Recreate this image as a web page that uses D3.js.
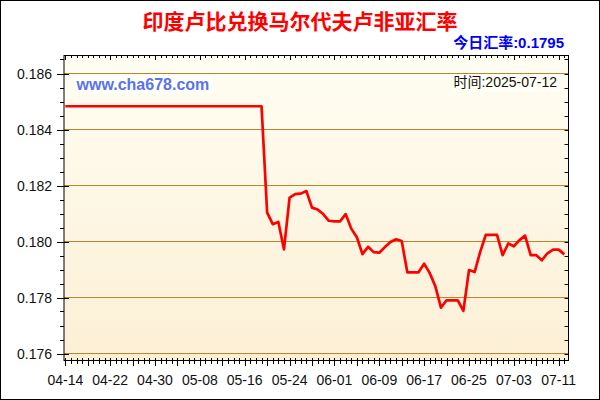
<!DOCTYPE html>
<html><head><meta charset="utf-8">
<script src="https://cdn.jsdelivr.net/npm/d3@7"></script>
<style>body{margin:0;background:#fff}svg{display:block}</style>
</head><body>
<svg id="c" width="600" height="400"></svg>
<script>
const chartTitle = "印度卢比兑换马尔代夫卢非亚汇率";
const todayLabel = "今日汇率:0.1795";
const timeLabel = "时间:2025-07-12";
const siteLabel = "www.cha678.com";
const startDate = "2025-04-14";
const xTickLabels = ["04-14","04-22","04-30","05-08","05-16","05-24","06-01","06-09","06-17","06-25","07-03","07-11"];
const yTickValues = [0.176,0.178,0.180,0.182,0.184,0.186];
const rates = [
  0.18483,0.18483,0.18483,0.18483,0.18483,0.18483,0.18483,0.18483,0.18483,0.18483,
  0.18483,0.18483,0.18483,0.18483,0.18483,0.18483,0.18483,0.18483,0.18483,0.18483,
  0.18483,0.18483,0.18483,0.18483,0.18483,0.18483,0.18483,0.18483,0.18483,0.18483,
  0.18483,0.18483,0.18483,0.18483,0.18483,0.18483,
  0.18103,0.18062,0.18070,0.17972,0.18157,0.18169,0.18171,0.18180,0.18121,0.18114,
  0.18098,0.18074,0.18072,0.18072,0.18098,0.18046,0.18015,0.17955,0.17981,0.17962,
  0.17960,0.17980,0.17998,0.18008,0.18002,0.17890,0.17890,0.17890,0.17921,0.17887,
  0.17840,0.17764,0.17790,0.17790,0.17790,0.17752,0.17898,0.17891,0.17963,0.18024,
  0.18024,0.18024,0.17951,0.17993,0.17983,0.18005,0.18021,0.17951,0.17951,0.17933,
  0.17958,0.17971,0.17971,0.17954
];

const parse = d3.utcParse("%Y-%m-%d");
const t0 = parse(startDate);
const data = rates.map((v, i) => ({ date: d3.utcDay.offset(t0, i), v }));
const lastDate = data[data.length - 1].date;

const L = 64, R = 568.5, T = 55.5, B = 360.5;
const x = d3.scaleUtc().domain([t0, parse("2025-07-11")]).range([65.3, 558.7]);
const y = d3.scaleLinear().domain([0.176, 0.186]).range([353.5, 73.5]);

const svg = d3.select("#c");
const defs = svg.append("defs");
const g = defs.append("linearGradient").attr("id","bg").attr("x1",0).attr("y1",0).attr("x2",0).attr("y2",1);
g.append("stop").attr("offset","0%").attr("stop-color","#FFFEF3");
g.append("stop").attr("offset","100%").attr("stop-color","#FCEFD5");

svg.append("rect").attr("x",0.5).attr("y",0.5).attr("width",599).attr("height",399)
  .attr("fill","#fff").attr("stroke","#000");

svg.append("rect").attr("x",L).attr("y",T).attr("width",R-L).attr("height",B-T).attr("fill","url(#bg)");

// grid lines
svg.append("g").selectAll("line").data(yTickValues).join("line")
  .attr("x1",L).attr("x2",R).attr("y1",d=>y(d)).attr("y2",d=>y(d))
  .attr("stroke","#B8862E").attr("stroke-width",1.2);

// label boxes
svg.append("rect").attr("x",74).attr("y",76).attr("width",140).attr("height",18).attr("fill","#FFFFF8");
svg.append("text").attr("x",76.5).attr("y",90).text(siteLabel)
  .attr("font-family","Liberation Sans, Arial, sans-serif").attr("font-weight","bold")
  .attr("font-size",16).attr("fill","#5873F0");

svg.append("rect").attr("x",452).attr("y",74).attr("width",108).attr("height",18).attr("fill","#FFFFF6");
svg.append("text").attr("x",557).attr("y",87).attr("text-anchor","end").text(timeLabel)
  .attr("font-family","Liberation Sans, Noto Sans CJK SC, sans-serif")
  .attr("font-size",14).attr("fill","#111");

// line
svg.append("path").datum(data)
  .attr("d", d3.line().x(d=>x(d.date)).y(d=>y(d.v)))
  .attr("fill","none").attr("stroke","#FF0000").attr("stroke-width",2.7).attr("stroke-linejoin","round");

// frame
svg.append("rect").attr("x",L).attr("y",T).attr("width",R-L).attr("height",B-T)
  .attr("fill","none").attr("stroke","#000").attr("stroke-width",1);

// y ticks
const minorY = d3.range(0.176, 0.18651, 0.0005);
const axY = svg.append("g").attr("stroke","#000").attr("stroke-width",1);
axY.selectAll("line.mn").data(minorY).join("line").attr("class","mn")
  .attr("x1",60).attr("x2",L).attr("y1",d=>Math.round(y(d))+0.5).attr("y2",d=>Math.round(y(d))+0.5);
axY.selectAll("line.mj").data(yTickValues).join("line").attr("class","mj")
  .attr("x1",57).attr("x2",69).attr("y1",d=>Math.round(y(d))+0.5).attr("y2",d=>Math.round(y(d))+0.5);
axY.selectAll("line.rt").data(minorY).join("line").attr("class","rt")
  .attr("x1",R-4).attr("x2",R).attr("y1",d=>Math.round(y(d))+0.5).attr("y2",d=>Math.round(y(d))+0.5);

svg.append("g").selectAll("text").data(yTickValues).join("text")
  .attr("x",52).attr("y",d=>y(d)+5).attr("text-anchor","end")
  .attr("font-family","Liberation Sans, Arial, sans-serif").attr("font-size",14).attr("fill","#111")
  .text(d=>d3.format(".3f")(d));

// x ticks
const days = d3.utcDay.range(t0, d3.utcDay.offset(lastDate, 1));
const axX = svg.append("g").attr("stroke","#000").attr("stroke-width",1);
axX.selectAll("line.b").data(days).join("line").attr("class","b")
  .attr("x1",d=>Math.round(x(d))+0.5).attr("x2",d=>Math.round(x(d))+0.5)
  .attr("y1",358).attr("y2",(d,i)=> i%4===0 ? 366 : 364);
axX.selectAll("line.t").data(days).join("line").attr("class","t")
  .attr("x1",d=>Math.round(x(d))+0.5).attr("x2",d=>Math.round(x(d))+0.5)
  .attr("y1",T).attr("y2",(d,i)=> i%8===0 ? 60 : 58);

svg.append("g").selectAll("text").data(xTickLabels).join("text")
  .attr("x",d=>x(parse("2025-"+d))).attr("y",385).attr("text-anchor","middle")
  .attr("font-family","Liberation Sans, Arial, sans-serif").attr("font-size",14).attr("fill","#111")
  .text(d=>d);

// titles
svg.append("text").attr("x",300).attr("y",29).attr("text-anchor","middle").text(chartTitle)
  .attr("font-family","Noto Sans CJK SC, sans-serif").attr("font-weight","bold")
  .attr("font-size",21).attr("fill","#FF0000");
svg.append("text").attr("x",564).attr("y",48).attr("text-anchor","end").text(todayLabel)
  .attr("font-family","Liberation Sans, Noto Sans CJK SC, sans-serif").attr("font-weight","bold")
  .attr("font-size",15).attr("fill","#0000FF");
</script>
</body></html>
